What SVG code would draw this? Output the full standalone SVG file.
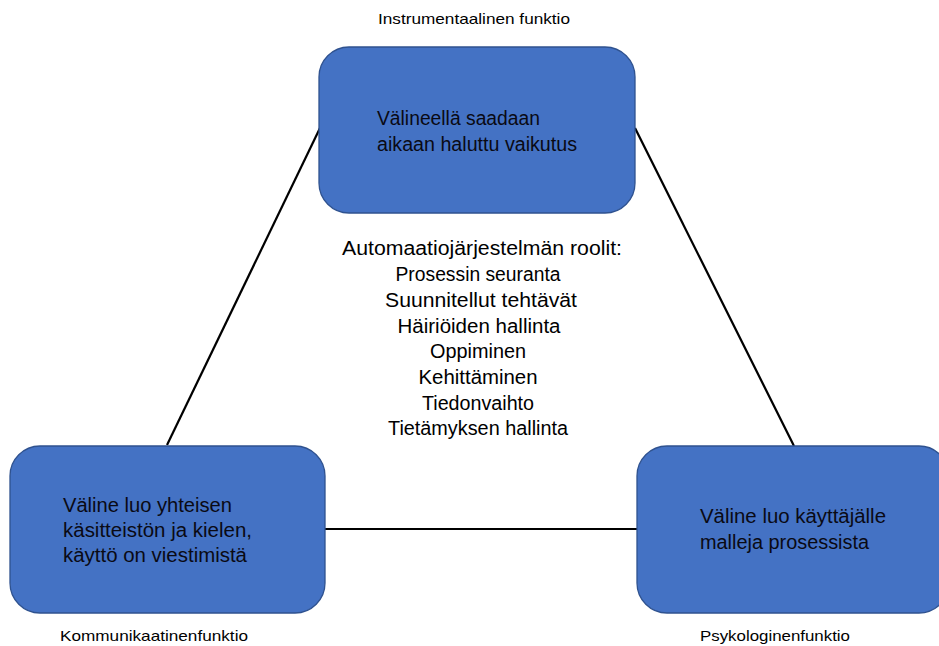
<svg xmlns="http://www.w3.org/2000/svg" width="939" height="646" viewBox="0 0 939 646">
  <style>
    .box { fill: #4472C4; stroke: #2F528F; stroke-width: 1.3; }
    .edge { stroke: #000; stroke-width: 2.2; fill: none; }
    .t { font-family: "Liberation Sans", Arial, sans-serif; fill: #000; }
    .bt { font-size: 20px; fill: #0a0a14; }
    .ct { font-size: 20px; text-anchor: middle; }
    .lab { font-size: 15px; }
  </style>
  <rect width="939" height="646" fill="#fff"/>

  <!-- connectors forming the triangle -->
  <g id="connectors">
    <line class="edge" x1="167" y1="445" x2="320" y2="128"/>
    <line class="edge" x1="635" y1="128" x2="794" y2="446"/>
    <line class="edge" x1="325" y1="529" x2="637" y2="529"/>
  </g>

  <!-- instrumental function -->
  <g id="node-instrumental">
    <rect class="box" x="319" y="47" width="316" height="166" rx="30" ry="30"/>
    <text class="t bt" x="377" y="125" textLength="163" lengthAdjust="spacingAndGlyphs">Välineellä saadaan</text>
    <text class="t bt" x="377" y="151" textLength="200" lengthAdjust="spacingAndGlyphs">aikaan haluttu vaikutus</text>
  </g>

  <!-- communicative function -->
  <g id="node-communicative">
    <rect class="box" x="10" y="446" width="315" height="167" rx="30" ry="30"/>
    <text class="t bt" x="63" y="512" textLength="169" lengthAdjust="spacingAndGlyphs">Väline luo yhteisen</text>
    <text class="t bt" x="63" y="537" textLength="189" lengthAdjust="spacingAndGlyphs">käsitteistön ja kielen,</text>
    <text class="t bt" x="63" y="562" textLength="184" lengthAdjust="spacingAndGlyphs">käyttö on viestimistä</text>
  </g>

  <!-- psychological function -->
  <g id="node-psychological">
    <rect class="box" x="637" y="446" width="312" height="167" rx="30" ry="30"/>
    <text class="t bt" x="700" y="523" textLength="186" lengthAdjust="spacingAndGlyphs">Väline luo käyttäjälle</text>
    <text class="t bt" x="700" y="549" textLength="169" lengthAdjust="spacingAndGlyphs">malleja prosessista</text>
  </g>

  <!-- roles of the automation system -->
  <g id="roles">
    <text class="t ct" x="482" y="255" textLength="280" lengthAdjust="spacingAndGlyphs">Automaatiojärjestelmän roolit:</text>
    <text class="t ct" x="478" y="281" textLength="165" lengthAdjust="spacingAndGlyphs">Prosessin seuranta</text>
    <text class="t ct" x="481" y="307" textLength="192" lengthAdjust="spacingAndGlyphs">Suunnitellut tehtävät</text>
    <text class="t ct" x="479" y="333" textLength="163" lengthAdjust="spacingAndGlyphs">Häiriöiden hallinta</text>
    <text class="t ct" x="478" y="358" textLength="96" lengthAdjust="spacingAndGlyphs">Oppiminen</text>
    <text class="t ct" x="478" y="384" textLength="119" lengthAdjust="spacingAndGlyphs">Kehittäminen</text>
    <text class="t ct" x="478" y="410" textLength="112" lengthAdjust="spacingAndGlyphs">Tiedonvaihto</text>
    <text class="t ct" x="478" y="435" textLength="180" lengthAdjust="spacingAndGlyphs">Tietämyksen hallinta</text>
  </g>

  <!-- function labels -->
  <g id="labels">
    <text class="t lab" x="378" y="24" textLength="192" lengthAdjust="spacingAndGlyphs">Instrumentaalinen funktio</text>
    <text class="t lab" x="60" y="641" textLength="188" lengthAdjust="spacingAndGlyphs">Kommunikaatinenfunktio</text>
    <text class="t lab" x="700" y="641" textLength="150" lengthAdjust="spacingAndGlyphs">Psykologinenfunktio</text>
  </g>
</svg>
